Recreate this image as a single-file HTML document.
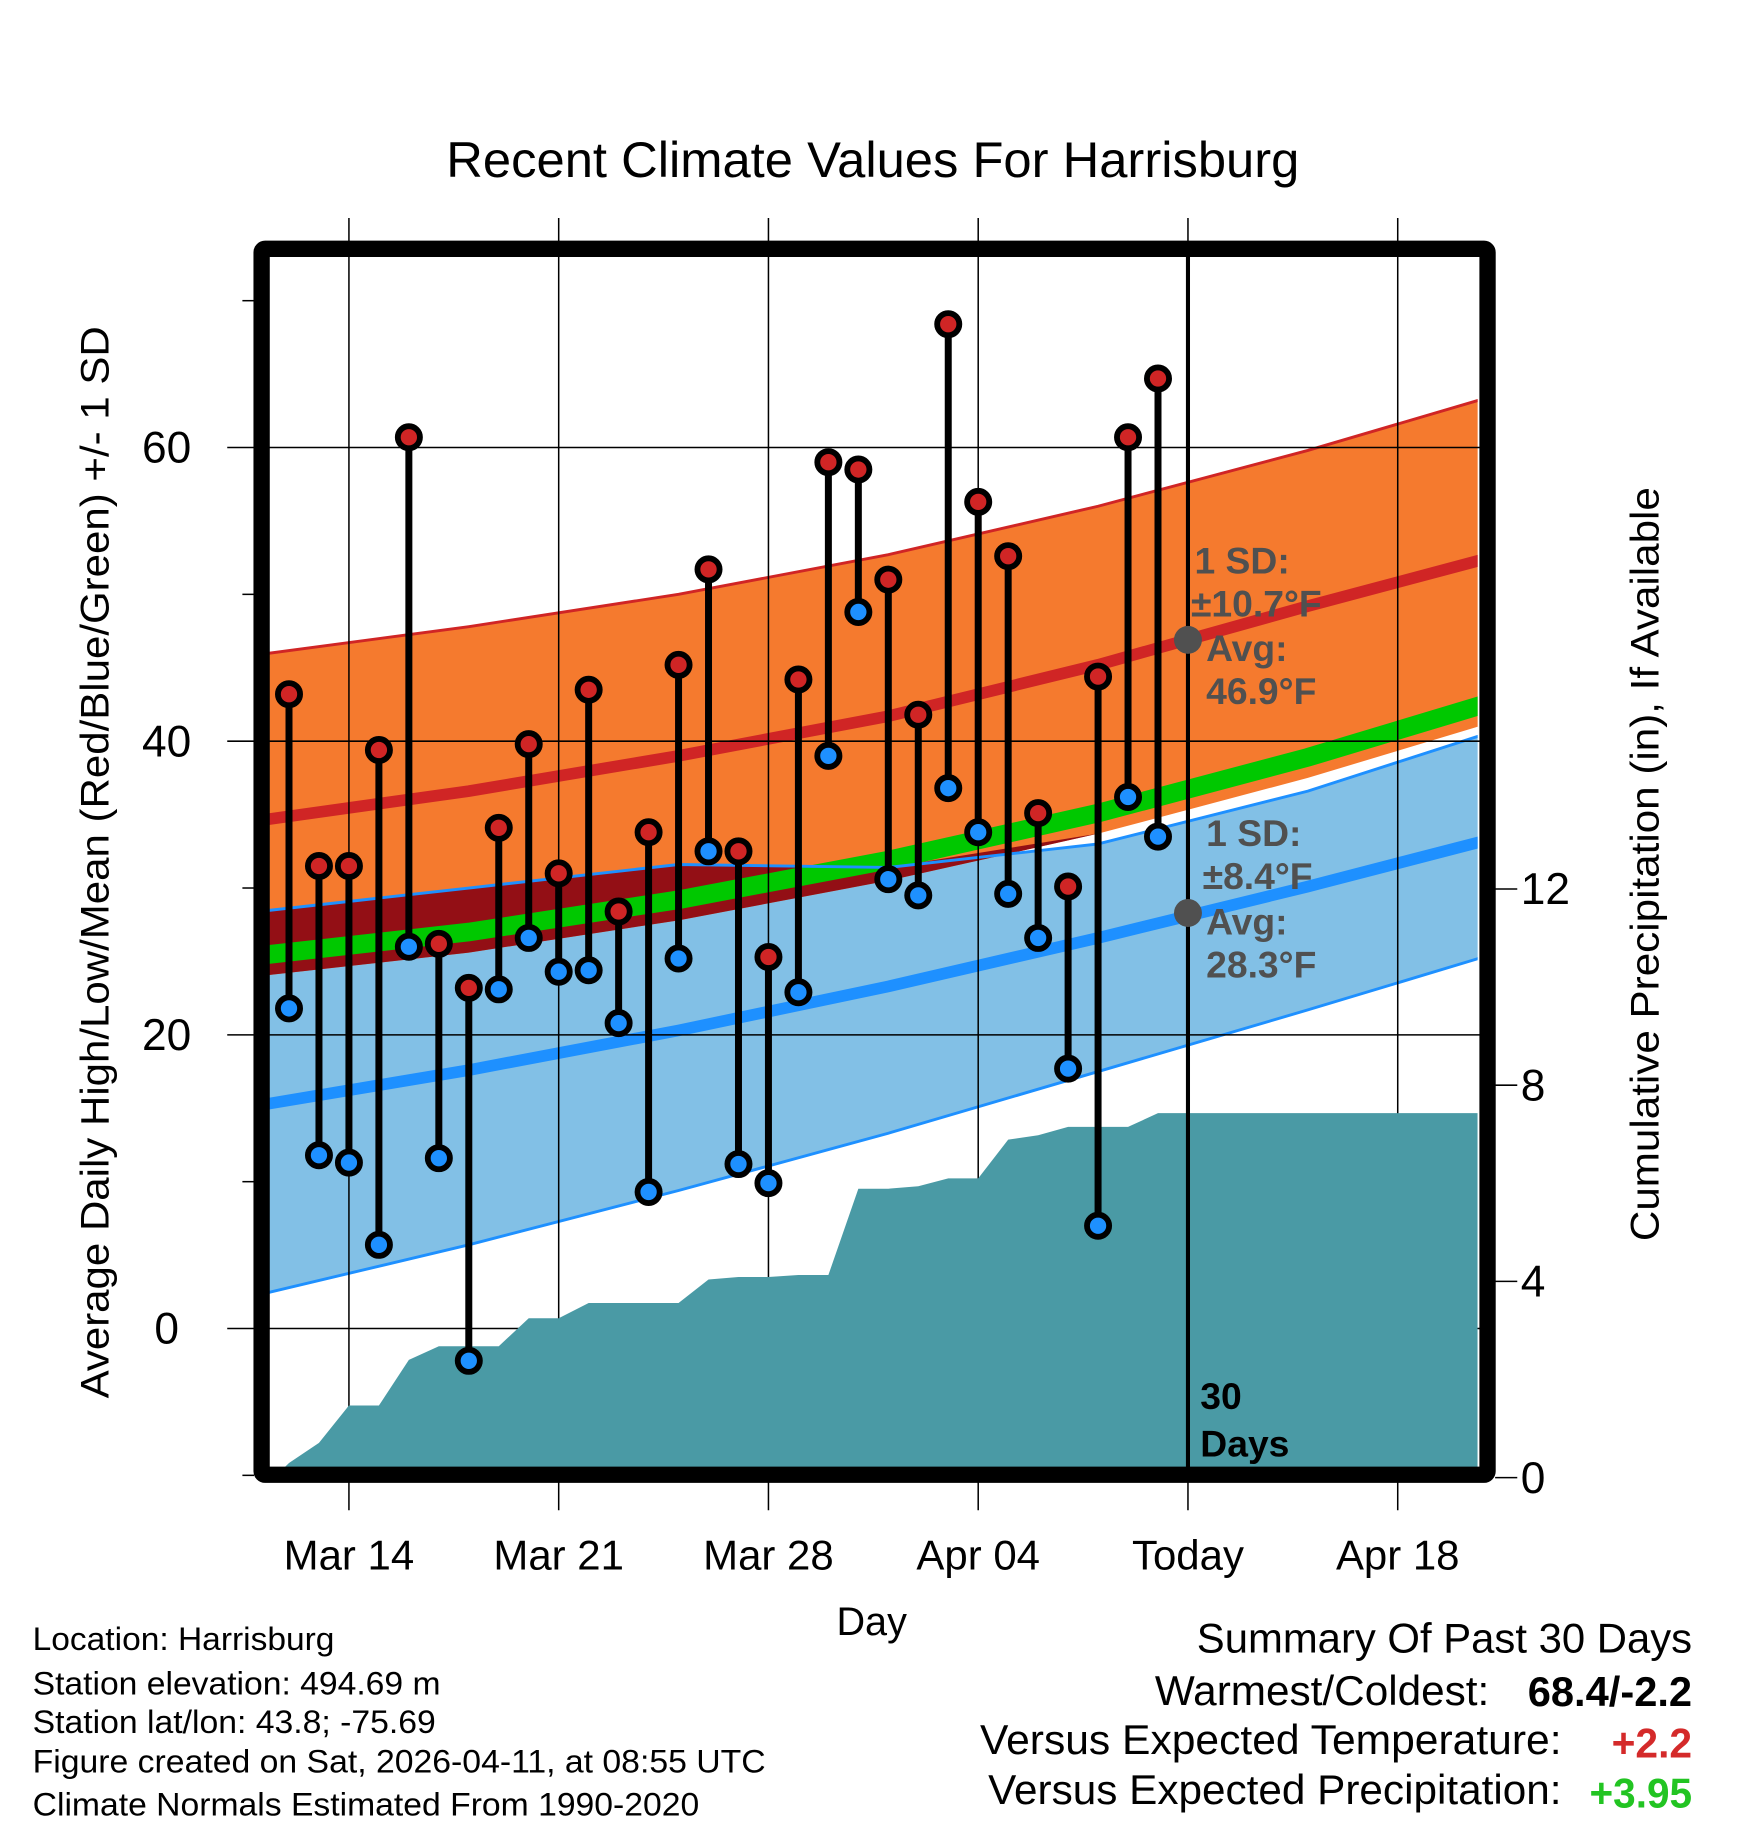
<!DOCTYPE html>
<html><head><meta charset="utf-8"><style>
html,body{margin:0;padding:0;background:#fff;}
svg{display:block;font-family:"Liberation Sans",Arial,sans-serif;}
</style></head><body>
<svg id="chart" width="1748" height="1828" viewBox="0 0 1500 1568.6" xmlns="http://www.w3.org/2000/svg">
<text x="383" y="152" font-size="43" textLength="732" lengthAdjust="spacingAndGlyphs">Recent Climate Values For Harrisburg</text>
<g id="bands"></g>
<g id="grid"></g>
<g id="precip"></g>
<g id="marks"></g>
<g id="frame"></g>
<g id="axes"></g>
<text transform="translate(93,1200) rotate(-90)" font-size="34" textLength="920" lengthAdjust="spacingAndGlyphs">Average Daily High/Low/Mean (Red/Blue/Green) +/- 1 SD</text>
<text transform="translate(1423,1065) rotate(-90)" font-size="34" textLength="647" lengthAdjust="spacingAndGlyphs">Cumulative Precipitation (in), If Available</text>
<text x="748" y="1403" font-size="34" text-anchor="middle">Day</text>
<g font-size="32" font-weight="bold" fill="#505050">
<text x="1025" y="492">1 SD:</text><text x="1022" y="529">±10.7°F</text>
<text x="1035" y="567">Avg:</text><text x="1035" y="604">46.9°F</text></g>
<g font-size="32" font-weight="bold" fill="#505050">
<text x="1035" y="726">1 SD:</text><text x="1032" y="763">±8.4°F</text>
<text x="1035" y="802">Avg:</text><text x="1035" y="839">28.3°F</text></g>
<g font-size="32" font-weight="bold"><text x="1030" y="1209">30</text><text x="1030" y="1250">Days</text></g>
<g font-size="28">
<text x="28" y="1416" textLength="259" lengthAdjust="spacingAndGlyphs">Location: Harrisburg</text>
<text x="28" y="1454" textLength="350" lengthAdjust="spacingAndGlyphs">Station elevation: 494.69 m</text>
<text x="28" y="1487" textLength="346" lengthAdjust="spacingAndGlyphs">Station lat/lon: 43.8; -75.69</text>
<text x="28" y="1521" textLength="629" lengthAdjust="spacingAndGlyphs">Figure created on Sat, 2026-04-11, at 08:55 UTC</text>
<text x="28" y="1558" textLength="572" lengthAdjust="spacingAndGlyphs">Climate Normals Estimated From 1990-2020</text></g>
<g font-size="36">
<text x="1027" y="1418" textLength="425" lengthAdjust="spacingAndGlyphs">Summary Of Past 30 Days</text>
<text x="991" y="1463" textLength="287" lengthAdjust="spacingAndGlyphs">Warmest/Coldest:</text>
<text x="1311" y="1464" font-weight="bold" textLength="141" lengthAdjust="spacingAndGlyphs">68.4/-2.2</text>
<text x="841" y="1505" textLength="499" lengthAdjust="spacingAndGlyphs">Versus Expected Temperature:</text>
<text x="1383" y="1508" font-weight="bold" fill="#d42a2a" textLength="69" lengthAdjust="spacingAndGlyphs">+2.2</text>
<text x="848" y="1548" textLength="492" lengthAdjust="spacingAndGlyphs">Versus Expected Precipitation:</text>
<text x="1364" y="1551" font-weight="bold" fill="#22c422" textLength="88" lengthAdjust="spacingAndGlyphs">+3.95</text></g>
</svg>
<script>
const highs=[43.2,31.5,31.5,39.4,60.7,26.2,23.2,34.1,39.8,31.0,43.5,28.4,33.8,45.2,51.7,32.5,25.3,44.2,59.0,58.5,51.0,41.8,68.4,56.3,52.6,35.1,30.1,44.4,60.7,64.7];
const lows=[21.8,11.8,11.3,5.7,26.0,11.6,-2.2,23.1,26.6,24.3,24.4,20.8,9.3,25.2,32.5,11.2,9.9,22.9,39.0,48.8,30.6,29.5,36.8,33.8,29.6,26.6,17.7,7.0,36.2,33.5];
const precip=[0.3,0.71,1.47,1.47,2.40,2.68,2.68,2.68,3.25,3.25,3.56,3.56,3.56,3.56,4.04,4.09,4.09,4.13,4.13,5.89,5.89,5.94,6.10,6.10,6.89,6.98,7.15,7.15,7.15,7.43];
const normDays=[-1,6,13,20,27,34,41];
const highUpper=[45.9,47.8,50.0,52.7,56.0,59.8,64.0];
const highMean=[34.6,36.6,39.0,41.7,45.2,49.2,53.0];
const highLower=[24.0,25.6,27.8,30.5,33.7,37.5,41.8];
const lowUpper=[28.4,30.0,31.6,31.4,33.0,36.6,41.2];
const lowMean=[15.2,17.6,20.3,23.3,26.6,30.1,33.8];
const lowLower=[2.3,5.7,9.4,13.3,17.5,21.7,26.0];
const yTicks=[0,20,40,60];
const yMinor=[-10,10,30,50,70];
const pTicks=[0,4,8,12];
const xTickDays=[2,9,16,23,30,37];
const xTickLabels=["Mar 14","Mar 21","Mar 28","Apr 04","Today","Apr 18"];
const todayDay=30, todayHighAvg=46.9, todayLowAvg=28.3;

const NS="http://www.w3.org/2000/svg";
const X=d=>248+25.714*d;
const Y=v=>1140-12.6*v;
const P=p=>1268-42.1*p;
const L=231,R=1268,T=220,B=1260;
function mk(tag,attrs,parent){const e=document.createElementNS(NS,tag);for(const k in attrs)e.setAttribute(k,attrs[k]);document.getElementById(parent).appendChild(e);return e;}
const pts=a=>normDays.map((d,i)=>X(d)+","+Y(a[i])).join(" ");
const rpts=a=>normDays.map((d,i)=>X(d)+","+Y(a[i])).reverse().join(" ");
const defs=document.createElementNS(NS,"defs");document.getElementById("chart").prepend(defs);
defs.innerHTML='<clipPath id="pc"><rect x="'+L+'" y="'+T+'" width="'+(R-L)+'" height="'+(B-T)+'"/></clipPath>';
document.getElementById("bands").setAttribute("clip-path","url(#pc)");
document.getElementById("precip").setAttribute("clip-path","url(#pc)");
let e;
e=mk("polygon",{points:pts(lowUpper)+" "+rpts(lowLower),fill:"#82c0e6"},"bands");

e=mk("polygon",{points:pts(highUpper)+" "+rpts(highLower),fill:"#f57a2e"},"bands");

const overlapTop=normDays.map((d,i)=>Math.max(lowUpper[i],highLower[i]));
e=mk("polygon",{points:pts(overlapTop)+" "+rpts(highLower),fill:"#930f15"},"bands");

e=mk("polyline",{points:pts(highLower.map(v=>v+1.4)),fill:"none",stroke:"#00c800","stroke-width":16},"bands");

e=mk("polyline",{points:pts(lowUpper),fill:"none",stroke:"#1e90ff","stroke-width":2.5},"bands");

e=mk("polyline",{points:pts(lowLower),fill:"none",stroke:"#1e90ff","stroke-width":2.5},"bands");

e=mk("polyline",{points:pts(highUpper),fill:"none",stroke:"#d02525","stroke-width":2.5},"bands");

e=mk("polyline",{points:pts(highMean),fill:"none",stroke:"#d02525","stroke-width":10},"bands");

e=mk("polyline",{points:pts(lowMean),fill:"none",stroke:"#1e90ff","stroke-width":10},"bands");

yTicks.forEach(v=>{e=mk("line",{x1:195,x2:1283,y1:Y(v),y2:Y(v),stroke:"#000","stroke-width":1.3},"grid");
});
xTickDays.forEach(d=>{e=mk("line",{x1:X(d),x2:X(d),y1:187,y2:1296,stroke:"#000","stroke-width":1.3},"grid");
});
let pp=[X(-0.5)+","+P(0)];precip.forEach((v,i)=>pp.push(X(i)+","+P(v)));
pp.push(R+","+P(precip[precip.length-1]));pp.push(R+","+P(0));pp.push(X(-0.5)+","+P(0));
e=mk("polygon",{points:pp.join(" "),fill:"#4a9aa5"},"precip");

e=mk("line",{x1:X(todayDay),x2:X(todayDay),y1:T,y2:B,stroke:"#000","stroke-width":3.5},"marks");

e=mk("circle",{cx:X(todayDay),cy:Y(todayHighAvg),r:12,fill:"#505050"},"marks");

e=mk("circle",{cx:X(todayDay),cy:Y(todayLowAvg),r:12,fill:"#505050"},"marks");

highs.forEach((h,i)=>{
 e=mk("line",{x1:X(i),x2:X(i),y1:Y(h),y2:Y(lows[i]),stroke:"#000","stroke-width":6},"marks");
 
});
highs.forEach((h,i)=>{
 e=mk("circle",{cx:X(i),cy:Y(h),r:9.5,fill:"#d02525",stroke:"#000","stroke-width":5},"marks");
 
 e=mk("circle",{cx:X(i),cy:Y(lows[i]),r:9.5,fill:"#1e90ff",stroke:"#000","stroke-width":5},"marks");
 
});
e=mk("rect",{x:224.5,y:213.5,width:1052,height:1052,fill:"none",stroke:"#000","stroke-width":14,rx:3},"frame");

yTicks.forEach(v=>{e=mk("text",{x:143,y:Y(v)+13,"font-size":38,"text-anchor":"middle"},"axes");e.textContent=v;
});
yMinor.forEach(v=>{e=mk("line",{x1:208,x2:218,y1:Y(v),y2:Y(v),stroke:"#000","stroke-width":1.3},"axes");
});
pTicks.forEach(v=>{e=mk("line",{x1:1283,x2:1302,y1:P(v),y2:P(v),stroke:"#000","stroke-width":1.3},"axes");

e=mk("text",{x:1305,y:P(v)+13,"font-size":38},"axes");e.textContent=v;
});
xTickDays.forEach((d,i)=>{e=mk("text",{x:X(d),y:1347,"font-size":36,"text-anchor":"middle"},"axes");e.textContent=xTickLabels[i];
});
</script>
</body></html>
